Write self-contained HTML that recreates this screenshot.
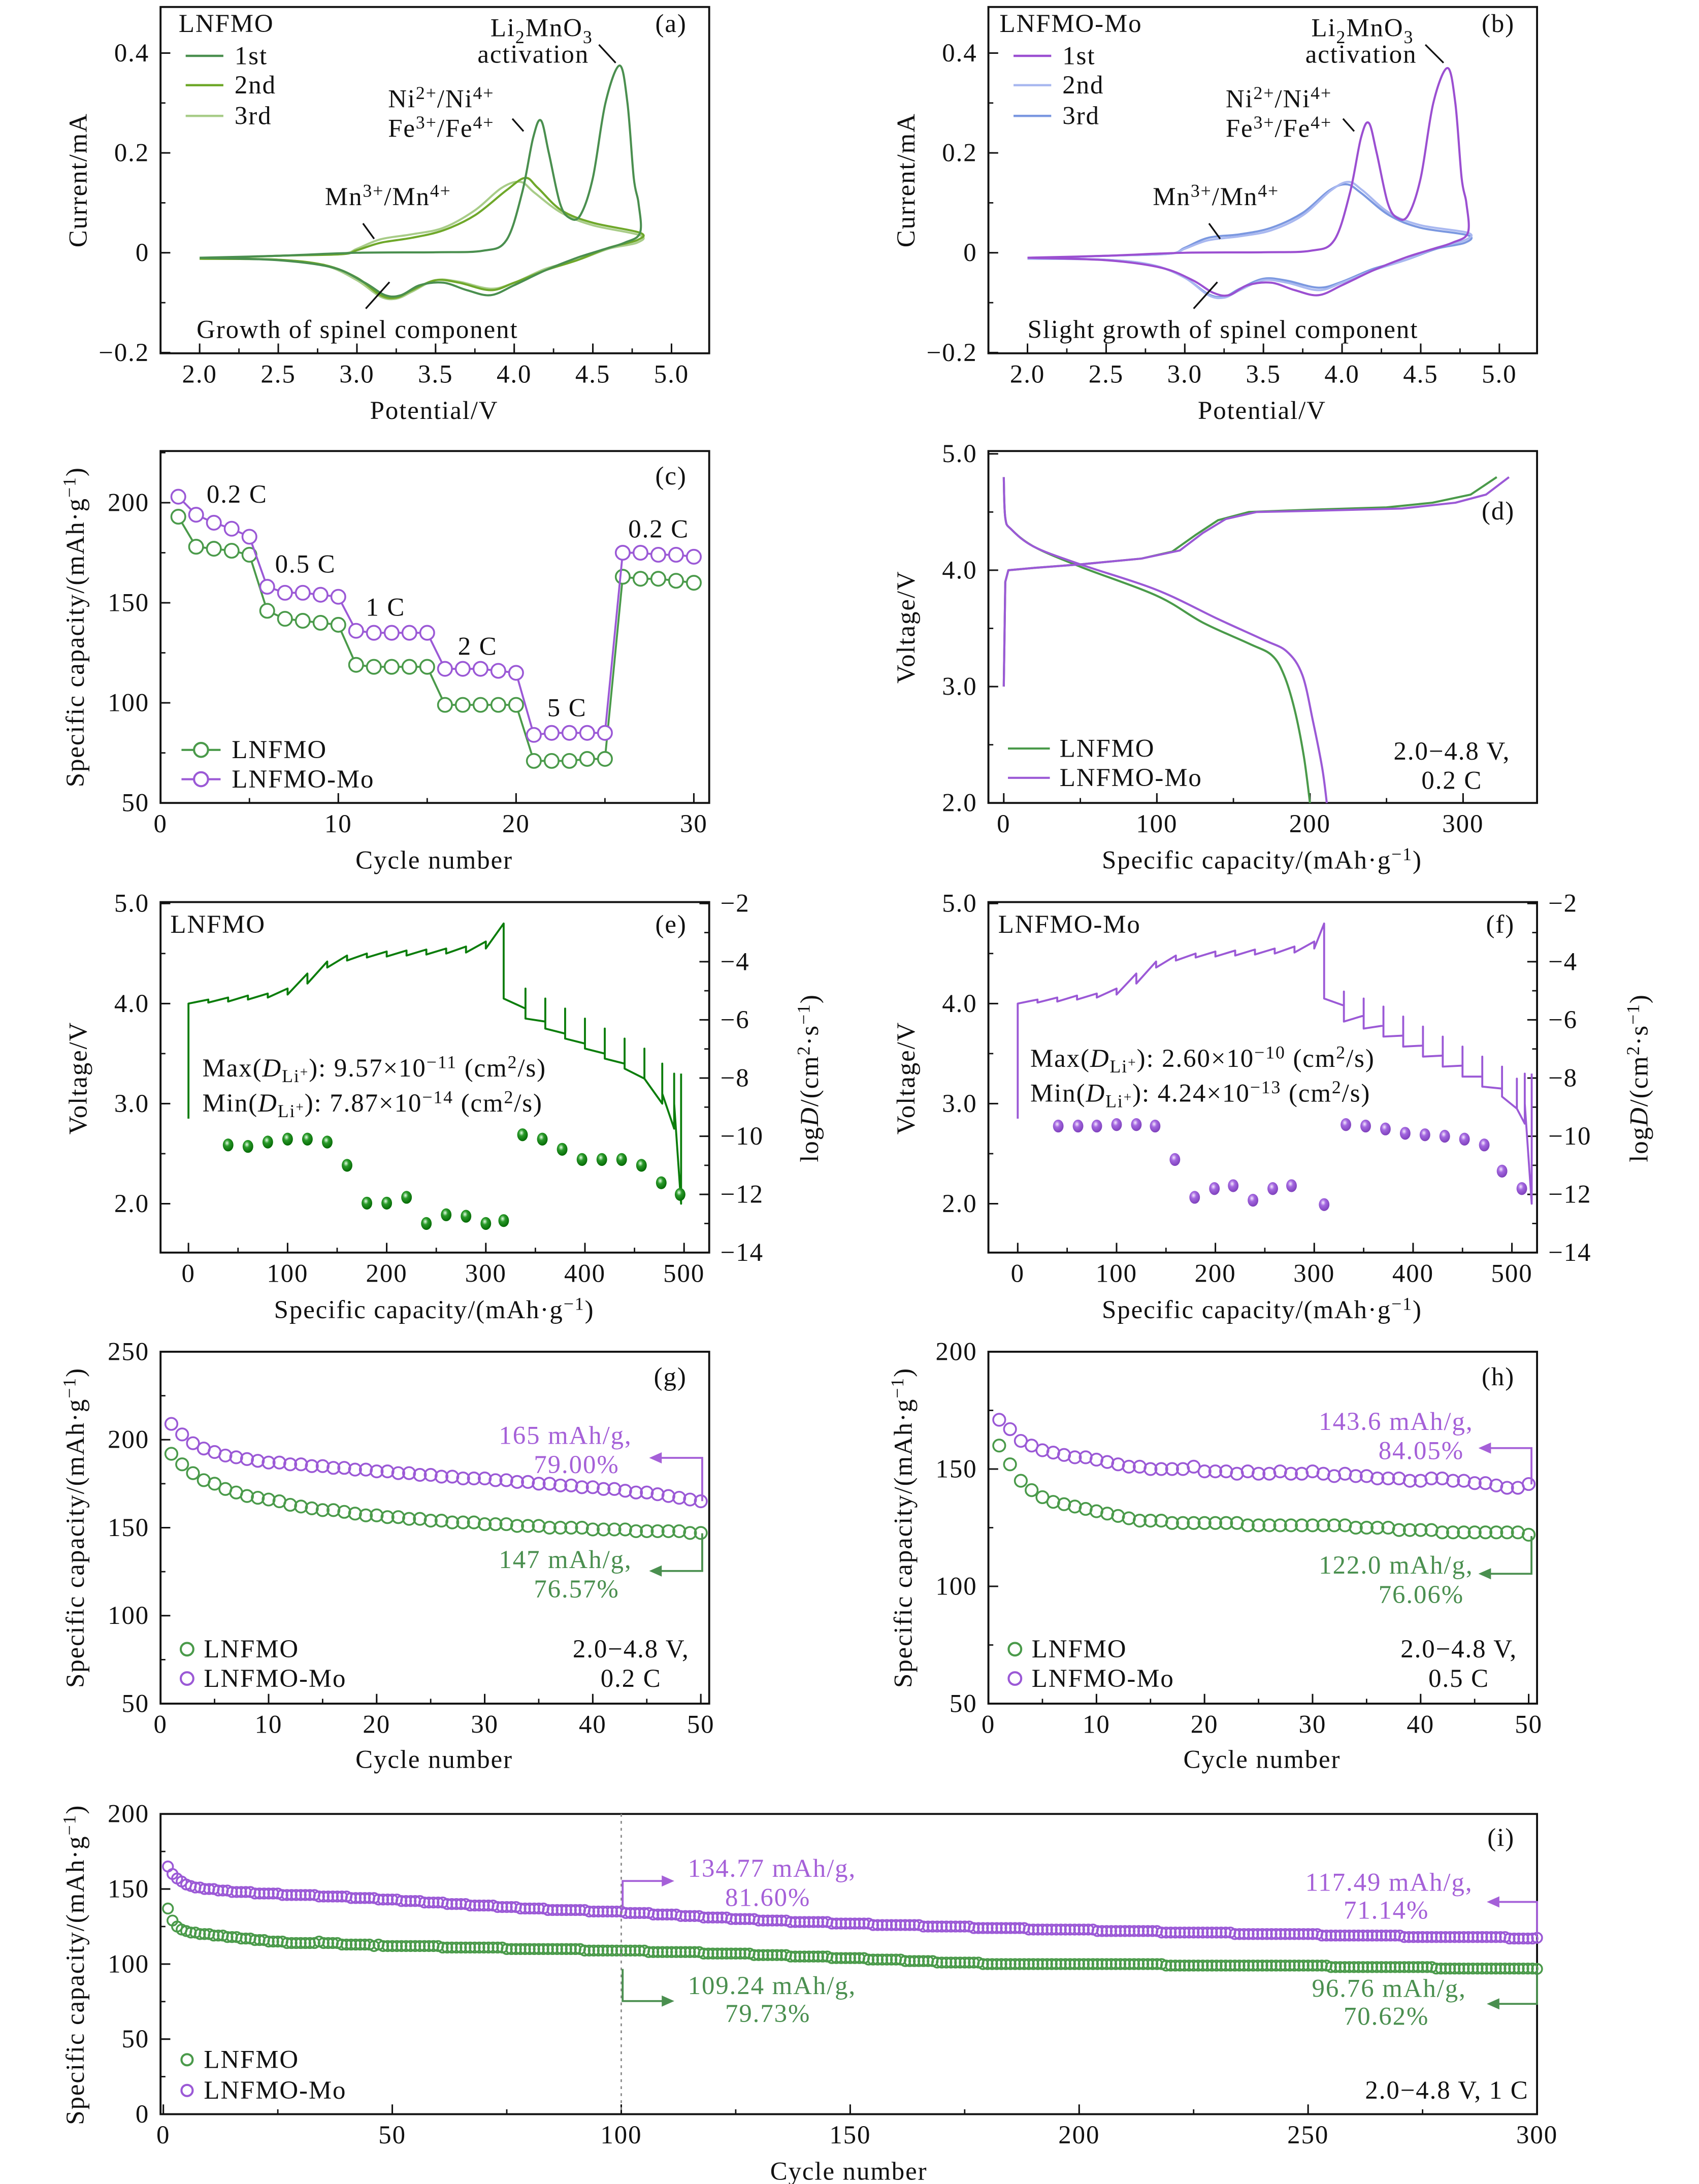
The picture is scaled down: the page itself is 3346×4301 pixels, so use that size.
<!DOCTYPE html>
<html><head><meta charset="utf-8"><title>LNFMO figure</title>
<style>
html,body{margin:0;padding:0;background:#fff;}
svg{display:block;}
text{font-family:"Liberation Serif",serif;fill:#111;font-size:18.5px;letter-spacing:0.7px;}
tspan[font-size="12"]{font-size:13px;}
</style></head>
<body>
<svg id="fig" xmlns="http://www.w3.org/2000/svg" width="3346" height="4301" viewBox="0 0 1217 1564" preserveAspectRatio="none">
<defs>
<radialGradient id="gball" cx="0.4" cy="0.35" r="0.7"><stop offset="0" stop-color="#e8ffe8"/><stop offset="0.35" stop-color="#2a9a2a"/><stop offset="1" stop-color="#006400"/></radialGradient>
<radialGradient id="pball" cx="0.4" cy="0.35" r="0.7"><stop offset="0" stop-color="#f6eaff"/><stop offset="0.35" stop-color="#a468e0"/><stop offset="1" stop-color="#7a3cb8"/></radialGradient>
</defs>
<rect x="0" y="0" width="1217" height="1564" fill="#fff"/>
<g id="static" font-size="17">
<!-- panel a -->
<text x="128" y="23">LNFMO</text>
<text x="492" y="23" text-anchor="end">(a)</text>
<line x1="133" y1="40" x2="160" y2="40" stroke="#4a8f4f" stroke-width="1.6"/>
<line x1="133" y1="61" x2="160" y2="61" stroke="#6fa82a" stroke-width="1.6"/>
<line x1="133" y1="83" x2="160" y2="83" stroke="#a8cc88" stroke-width="1.6"/>
<text x="168" y="46">1st</text>
<text x="168" y="67">2nd</text>
<text x="168" y="89">3rd</text>
<text x="388" y="26" text-anchor="middle">Li<tspan dy="5" font-size="12">2</tspan><tspan dy="-5">MnO</tspan><tspan dy="5" font-size="12">3</tspan></text>
<text x="382" y="45" text-anchor="middle">activation</text>
<line x1="429" y1="32" x2="441" y2="45" stroke="#111" stroke-width="1.2"/>
<text x="316" y="77" text-anchor="middle">Ni<tspan dy="-6" font-size="12">2+</tspan><tspan dy="6">/Ni</tspan><tspan dy="-6" font-size="12">4+</tspan></text>
<text x="316" y="98" text-anchor="middle">Fe<tspan dy="-6" font-size="12">3+</tspan><tspan dy="6">/Fe</tspan><tspan dy="-6" font-size="12">4+</tspan></text>
<line x1="367" y1="85" x2="375" y2="94" stroke="#111" stroke-width="1.2"/>
<text x="278" y="147" text-anchor="middle">Mn<tspan dy="-6" font-size="12">3+</tspan><tspan dy="6">/Mn</tspan><tspan dy="-6" font-size="12">4+</tspan></text>
<line x1="260" y1="160" x2="268" y2="171" stroke="#111" stroke-width="1.2"/>
<text x="256" y="242" text-anchor="middle">Growth of spinel component</text>
<line x1="262" y1="221" x2="279" y2="202" stroke="#111" stroke-width="1.2"/>
<text x="311" y="300" text-anchor="middle">Potential/V</text>
<text transform="translate(62,129) rotate(-90)" text-anchor="middle">Current/mA</text>
<!-- panel b -->
<text x="716" y="23">LNFMO-Mo</text>
<text x="1085" y="23" text-anchor="end">(b)</text>
<line x1="726" y1="40" x2="753" y2="40" stroke="#9b4fd1" stroke-width="1.6"/>
<line x1="726" y1="61" x2="753" y2="61" stroke="#a9b8f0" stroke-width="1.6"/>
<line x1="726" y1="83" x2="753" y2="83" stroke="#7b98e0" stroke-width="1.6"/>
<text x="761" y="46">1st</text>
<text x="761" y="67">2nd</text>
<text x="761" y="89">3rd</text>
<text x="976" y="26" text-anchor="middle">Li<tspan dy="5" font-size="12">2</tspan><tspan dy="-5">MnO</tspan><tspan dy="5" font-size="12">3</tspan></text>
<text x="975" y="45" text-anchor="middle">activation</text>
<line x1="1021" y1="32" x2="1034" y2="45" stroke="#111" stroke-width="1.2"/>
<text x="916" y="77" text-anchor="middle">Ni<tspan dy="-6" font-size="12">2+</tspan><tspan dy="6">/Ni</tspan><tspan dy="-6" font-size="12">4+</tspan></text>
<text x="916" y="98" text-anchor="middle">Fe<tspan dy="-6" font-size="12">3+</tspan><tspan dy="6">/Fe</tspan><tspan dy="-6" font-size="12">4+</tspan></text>
<line x1="962" y1="85" x2="970" y2="94" stroke="#111" stroke-width="1.2"/>
<text x="871" y="147" text-anchor="middle">Mn<tspan dy="-6" font-size="12">3+</tspan><tspan dy="6">/Mn</tspan><tspan dy="-6" font-size="12">4+</tspan></text>
<line x1="866" y1="160" x2="874" y2="171" stroke="#111" stroke-width="1.2"/>
<text x="876" y="242" text-anchor="middle">Slight growth of spinel component</text>
<line x1="855" y1="221" x2="872" y2="202" stroke="#111" stroke-width="1.2"/>
<text x="904" y="300" text-anchor="middle">Potential/V</text>
<text transform="translate(655,129) rotate(-90)" text-anchor="middle">Current/mA</text>
<!-- panel c -->
<text x="492" y="347" text-anchor="end">(c)</text>
<text x="148" y="360">0.2 C</text>
<text x="197" y="410">0.5 C</text>
<text x="262" y="441">1 C</text>
<text x="328" y="469">2 C</text>
<text x="392" y="513">5 C</text>
<text x="450" y="385">0.2 C</text>
<line x1="130" y1="537" x2="158" y2="537" stroke="#4a9a4a" stroke-width="1.5"/>
<circle cx="144" cy="537" r="5" fill="#fff" stroke="#4a9a4a" stroke-width="1.5"/>
<line x1="130" y1="558" x2="158" y2="558" stroke="#9b59d6" stroke-width="1.5"/>
<circle cx="144" cy="558" r="5" fill="#fff" stroke="#9b59d6" stroke-width="1.5"/>
<text x="166" y="543">LNFMO</text>
<text x="166" y="564">LNFMO-Mo</text>
<text x="311" y="622" text-anchor="middle">Cycle number</text>
<text transform="translate(60,449) rotate(-90)" text-anchor="middle">Specific capacity/(mAh·g<tspan dy="-6" font-size="12">−1</tspan><tspan dy="6">)</tspan></text>
<!-- panel d -->
<text x="1085" y="372" text-anchor="end">(d)</text>
<line x1="722" y1="536" x2="752" y2="536" stroke="#4a9a4a" stroke-width="1.5"/>
<line x1="722" y1="557" x2="752" y2="557" stroke="#9b59d6" stroke-width="1.5"/>
<text x="759" y="542">LNFMO</text>
<text x="759" y="563">LNFMO-Mo</text>
<text x="1040" y="544" text-anchor="middle">2.0−4.8 V,</text>
<text x="1040" y="565" text-anchor="middle">0.2 C</text>
<text x="904" y="622" text-anchor="middle">Specific capacity/(mAh·g<tspan dy="-6" font-size="12">−1</tspan><tspan dy="6">)</tspan></text>
<text transform="translate(655,449) rotate(-90)" text-anchor="middle">Voltage/V</text>
<!-- panel e -->
<text x="122" y="668">LNFMO</text>
<text x="492" y="668" text-anchor="end">(e)</text>
<text x="145" y="771">Max(<tspan font-style="italic">D</tspan><tspan dy="4" font-size="12">Li</tspan><tspan dy="-4" font-size="10">+</tspan>): 9.57×10<tspan dy="-6" font-size="12">−11</tspan><tspan dy="6"> (cm</tspan><tspan dy="-6" font-size="12">2</tspan><tspan dy="6">/s)</tspan></text>
<text x="145" y="796">Min(<tspan font-style="italic">D</tspan><tspan dy="4" font-size="12">Li</tspan><tspan dy="-4" font-size="10">+</tspan>): 7.87×10<tspan dy="-6" font-size="12">−14</tspan><tspan dy="6"> (cm</tspan><tspan dy="-6" font-size="12">2</tspan><tspan dy="6">/s)</tspan></text>
<text x="311" y="944" text-anchor="middle">Specific capacity/(mAh·g<tspan dy="-6" font-size="12">−1</tspan><tspan dy="6">)</tspan></text>
<text transform="translate(62,772) rotate(-90)" text-anchor="middle">Voltage/V</text>
<text transform="translate(586,772) rotate(-90)" text-anchor="middle">log<tspan font-style="italic">D</tspan>/(cm<tspan dy="-6" font-size="12">2</tspan><tspan dy="6">·s</tspan><tspan dy="-6" font-size="12">−1</tspan><tspan dy="6">)</tspan></text>
<!-- panel f -->
<text x="715" y="668">LNFMO-Mo</text>
<text x="1085" y="668" text-anchor="end">(f)</text>
<text x="738" y="764">Max(<tspan font-style="italic">D</tspan><tspan dy="4" font-size="12">Li</tspan><tspan dy="-4" font-size="10">+</tspan>): 2.60×10<tspan dy="-6" font-size="12">−10</tspan><tspan dy="6"> (cm</tspan><tspan dy="-6" font-size="12">2</tspan><tspan dy="6">/s)</tspan></text>
<text x="738" y="789">Min(<tspan font-style="italic">D</tspan><tspan dy="4" font-size="12">Li</tspan><tspan dy="-4" font-size="10">+</tspan>): 4.24×10<tspan dy="-6" font-size="12">−13</tspan><tspan dy="6"> (cm</tspan><tspan dy="-6" font-size="12">2</tspan><tspan dy="6">/s)</tspan></text>
<text x="904" y="944" text-anchor="middle">Specific capacity/(mAh·g<tspan dy="-6" font-size="12">−1</tspan><tspan dy="6">)</tspan></text>
<text transform="translate(655,772) rotate(-90)" text-anchor="middle">Voltage/V</text>
<text transform="translate(1180,772) rotate(-90)" text-anchor="middle">log<tspan font-style="italic">D</tspan>/(cm<tspan dy="-6" font-size="12">2</tspan><tspan dy="6">·s</tspan><tspan dy="-6" font-size="12">−1</tspan><tspan dy="6">)</tspan></text>
<!-- panel g -->
<text x="492" y="992" text-anchor="end">(g)</text>
<text x="405" y="1034" text-anchor="middle" style="fill:#a560d8">165 mAh/g,</text>
<text x="413" y="1055" text-anchor="middle" style="fill:#a560d8">79.00%</text>
<path d="M503,1075 V1044 H470" fill="none" stroke="#a560d8" stroke-width="1.4"/>
<path d="M465,1044 l9,-4 v8 z" fill="#a560d8"/>
<text x="405" y="1123" text-anchor="middle" style="fill:#4a8f4f">147 mAh/g,</text>
<text x="413" y="1144" text-anchor="middle" style="fill:#4a8f4f">76.57%</text>
<path d="M503,1098 V1125 H470" fill="none" stroke="#4a8f4f" stroke-width="1.4"/>
<path d="M465,1125 l9,-4 v8 z" fill="#4a8f4f"/>
<circle cx="134" cy="1181" r="4.5" fill="#fff" stroke="#4a9a4a" stroke-width="1.5"/>
<circle cx="134" cy="1202" r="4.5" fill="#fff" stroke="#9b59d6" stroke-width="1.5"/>
<text x="146" y="1187">LNFMO</text>
<text x="146" y="1208">LNFMO-Mo</text>
<text x="452" y="1187" text-anchor="middle">2.0−4.8 V,</text>
<text x="452" y="1208" text-anchor="middle">0.2 C</text>
<text x="311" y="1266" text-anchor="middle">Cycle number</text>
<text transform="translate(60,1094) rotate(-90)" text-anchor="middle">Specific capacity/(mAh·g<tspan dy="-6" font-size="12">−1</tspan><tspan dy="6">)</tspan></text>
<!-- panel h -->
<text x="1085" y="992" text-anchor="end">(h)</text>
<text x="1000" y="1024" text-anchor="middle" style="fill:#a560d8">143.6 mAh/g,</text>
<text x="1018" y="1045" text-anchor="middle" style="fill:#a560d8">84.05%</text>
<path d="M1097,1063 V1037 H1064" fill="none" stroke="#a560d8" stroke-width="1.4"/>
<path d="M1059,1037 l9,-4 v8 z" fill="#a560d8"/>
<text x="1000" y="1127" text-anchor="middle" style="fill:#4a8f4f">122.0 mAh/g,</text>
<text x="1018" y="1148" text-anchor="middle" style="fill:#4a8f4f">76.06%</text>
<path d="M1097,1100 V1127 H1064" fill="none" stroke="#4a8f4f" stroke-width="1.4"/>
<path d="M1059,1127 l9,-4 v8 z" fill="#4a8f4f"/>
<circle cx="727" cy="1181" r="4.5" fill="#fff" stroke="#4a9a4a" stroke-width="1.5"/>
<circle cx="727" cy="1202" r="4.5" fill="#fff" stroke="#9b59d6" stroke-width="1.5"/>
<text x="739" y="1187">LNFMO</text>
<text x="739" y="1208">LNFMO-Mo</text>
<text x="1045" y="1187" text-anchor="middle">2.0−4.8 V,</text>
<text x="1045" y="1208" text-anchor="middle">0.5 C</text>
<text x="904" y="1266" text-anchor="middle">Cycle number</text>
<text transform="translate(653,1094) rotate(-90)" text-anchor="middle">Specific capacity/(mAh·g<tspan dy="-6" font-size="12">−1</tspan><tspan dy="6">)</tspan></text>
<!-- panel i -->
<text x="1085" y="1322" text-anchor="end">(i)</text>
<line x1="445" y1="1299" x2="445" y2="1514" stroke="#888" stroke-width="1" stroke-dasharray="2,3"/>
<text x="553" y="1344" text-anchor="middle" style="fill:#a560d8">134.77 mAh/g,</text>
<text x="550" y="1365" text-anchor="middle" style="fill:#a560d8">81.60%</text>
<path d="M446,1367 V1347 H478" fill="none" stroke="#a560d8" stroke-width="1.4"/>
<path d="M483,1347 l-9,-4 v8 z" fill="#a560d8"/>
<text x="553" y="1428" text-anchor="middle" style="fill:#4a8f4f">109.24 mAh/g,</text>
<text x="550" y="1448" text-anchor="middle" style="fill:#4a8f4f">79.73%</text>
<path d="M446,1410 V1433 H478" fill="none" stroke="#4a8f4f" stroke-width="1.4"/>
<path d="M483,1433 l-9,-4 v8 z" fill="#4a8f4f"/>
<text x="995" y="1354" text-anchor="middle" style="fill:#a560d8">117.49 mAh/g,</text>
<text x="993" y="1374" text-anchor="middle" style="fill:#a560d8">71.14%</text>
<path d="M1101,1386 V1362 H1070" fill="none" stroke="#a560d8" stroke-width="1.4"/>
<path d="M1065,1362 l9,-4 v8 z" fill="#a560d8"/>
<text x="995" y="1430" text-anchor="middle" style="fill:#4a8f4f">96.76 mAh/g,</text>
<text x="993" y="1450" text-anchor="middle" style="fill:#4a8f4f">70.62%</text>
<path d="M1101,1411 V1435 H1070" fill="none" stroke="#4a8f4f" stroke-width="1.4"/>
<path d="M1065,1435 l9,-4 v8 z" fill="#4a8f4f"/>
<circle cx="134" cy="1475" r="4" fill="#fff" stroke="#4a9a4a" stroke-width="1.5"/>
<circle cx="134" cy="1497" r="4" fill="#fff" stroke="#9b59d6" stroke-width="1.5"/>
<text x="146" y="1481">LNFMO</text>
<text x="146" y="1503">LNFMO-Mo</text>
<text x="1095" y="1503" text-anchor="end">2.0−4.8 V, 1 C</text>
<text x="608" y="1561" text-anchor="middle">Cycle number</text>
<text transform="translate(60,1407) rotate(-90)" text-anchor="middle">Specific capacity/(mAh·g<tspan dy="-6" font-size="12">−1</tspan><tspan dy="6">)</tspan></text>
</g>
</svg>
<script>
// ---------- DATA ----------
const cvA1 = [[2.0,-0.01],[2.5,-0.006],[3.0,0.0],[3.5,0.001],[3.8,0.004],[3.95,0.025],[4.05,0.12],[4.12,0.23],[4.17,0.265],[4.22,0.2],[4.29,0.1],[4.35,0.07],[4.42,0.075],[4.5,0.15],[4.58,0.3],[4.67,0.375],[4.72,0.3],[4.76,0.15],[4.79,0.1],[4.8,0.04],[4.7,0.02],[4.55,0.005],[4.4,-0.01],[4.2,-0.035],[4.0,-0.065],[3.85,-0.085],[3.7,-0.075],[3.55,-0.06],[3.4,-0.065],[3.28,-0.085],[3.18,-0.085],[3.05,-0.06],[2.85,-0.03],[2.5,-0.015],[2.0,-0.01]];
const cvA2 = [[2.0,-0.012],[2.5,-0.006],[2.9,-0.003],[3.0,0.005],[3.15,0.02],[3.35,0.03],[3.55,0.045],[3.75,0.075],[3.95,0.125],[4.07,0.15],[4.15,0.13],[4.3,0.085],[4.5,0.06],[4.8,0.04],[4.78,0.025],[4.6,0.01],[4.4,-0.015],[4.2,-0.035],[4.0,-0.06],[3.85,-0.075],[3.65,-0.06],[3.5,-0.055],[3.35,-0.075],[3.25,-0.09],[3.15,-0.085],[3.0,-0.05],[2.8,-0.025],[2.5,-0.014],[2.0,-0.012]];
const cvA3 = [[2.0,-0.012],[2.5,-0.006],[2.9,-0.002],[3.0,0.008],[3.15,0.027],[3.35,0.037],[3.55,0.05],[3.75,0.085],[3.92,0.13],[4.04,0.142],[4.13,0.12],[4.3,0.08],[4.5,0.055],[4.8,0.035],[4.78,0.02],[4.6,0.008],[4.4,-0.015],[4.2,-0.032],[4.0,-0.06],[3.85,-0.072],[3.65,-0.058],[3.5,-0.055],[3.35,-0.078],[3.25,-0.092],[3.15,-0.088],[3.0,-0.055],[2.8,-0.026],[2.5,-0.014],[2.0,-0.012]];
const cvB1 = [[2.0,-0.01],[2.5,-0.006],[3.0,0.0],[3.5,0.001],[3.8,0.004],[3.95,0.025],[4.05,0.12],[4.12,0.23],[4.17,0.26],[4.22,0.2],[4.29,0.1],[4.35,0.07],[4.42,0.075],[4.5,0.15],[4.58,0.3],[4.67,0.37],[4.72,0.3],[4.76,0.15],[4.79,0.1],[4.8,0.04],[4.7,0.02],[4.55,0.005],[4.4,-0.01],[4.2,-0.035],[4.0,-0.065],[3.85,-0.085],[3.7,-0.075],[3.55,-0.06],[3.4,-0.065],[3.28,-0.085],[3.18,-0.08],[3.05,-0.055],[2.85,-0.03],[2.5,-0.015],[2.0,-0.01]];
const cvB2 = [[2.0,-0.012],[2.5,-0.006],[2.9,-0.002],[3.0,0.008],[3.15,0.025],[3.35,0.033],[3.55,0.045],[3.75,0.075],[3.93,0.125],[4.04,0.142],[4.13,0.125],[4.3,0.08],[4.5,0.055],[4.8,0.04],[4.78,0.025],[4.6,0.01],[4.4,-0.015],[4.2,-0.035],[4.0,-0.06],[3.85,-0.075],[3.65,-0.06],[3.5,-0.055],[3.35,-0.075],[3.25,-0.09],[3.15,-0.085],[3.0,-0.05],[2.8,-0.025],[2.5,-0.014],[2.0,-0.012]];
const cvB3 = [[2.0,-0.012],[2.5,-0.006],[2.9,-0.002],[3.0,0.01],[3.15,0.03],[3.35,0.037],[3.55,0.05],[3.75,0.08],[3.92,0.125],[4.03,0.137],[4.12,0.12],[4.3,0.075],[4.5,0.05],[4.8,0.035],[4.78,0.02],[4.6,0.008],[4.4,-0.015],[4.2,-0.032],[4.0,-0.058],[3.85,-0.07],[3.65,-0.056],[3.5,-0.052],[3.35,-0.072],[3.25,-0.088],[3.15,-0.083],[3.0,-0.05],[2.8,-0.025],[2.5,-0.014],[2.0,-0.012]];

const rateCycles = [1,2,3,4,5,6,7,8,9,10,11,12,13,14,15,16,17,18,19,20,21,22,23,24,25,26,27,28,29,30];
const rateLNFMO = [193,178,177,176,174,146,142,141,140,139,119,118,118,118,118,99,99,99,99,99,71,71,71,72,72,163,162,162,161,160];
const rateMo = [203,194,190,187,183,158,155,155,154,153,136,135,135,135,135,117,117,117,116,115,84,85,85,85,85,175,175,174,174,173];

const dChgL = [[0,3.0],[1,3.9],[3,4.0],[20,4.02],[50,4.05],[90,4.1],[110,4.16],[125,4.3],[140,4.43],[160,4.5],[200,4.52],[250,4.54],[280,4.58],[305,4.65],[322,4.8]];
const dChgM = [[0,3.0],[1,3.9],[3,4.0],[20,4.02],[50,4.05],[90,4.1],[115,4.17],[130,4.32],[145,4.44],[165,4.5],[200,4.51],[260,4.53],[295,4.58],[315,4.65],[330,4.8]];
const dDisL = [[0,4.8],[1,4.45],[5,4.35],[20,4.2],[50,4.03],[100,3.78],[130,3.55],[160,3.37],[175,3.27],[183,3.1],[190,2.8],[196,2.4],[200,2.0]];
const dDisM = [[0,4.8],[1,4.45],[5,4.35],[20,4.2],[50,4.05],[100,3.83],[140,3.58],[170,3.4],[185,3.3],[195,3.1],[202,2.7],[208,2.3],[211,2.0]];

const eChgCap = [0,20,40,60,80,100,120,140,160,180,200,220,240,260,280,300,318];
const eChgTop = [4.02,4.04,4.06,4.08,4.10,4.15,4.30,4.42,4.48,4.50,4.52,4.53,4.54,4.55,4.57,4.62,4.80];
const eChgRel = [4.00,4.01,4.02,4.04,4.06,4.09,4.20,4.36,4.43,4.46,4.47,4.48,4.49,4.50,4.51,4.55,4.8];
const eDisCap = [318,340,360,380,400,420,440,460,478,490,497];
const eDisBot = [4.8,3.95,3.82,3.7,3.6,3.5,3.4,3.25,3.0,2.75,2.0];
const eDisRel = [4.8,4.15,4.05,3.95,3.85,3.75,3.65,3.55,3.4,3.3,3.3];
const eLogCap = [40,60,80,100,120,140,160,180,200,220,240,260,280,300,318,337,357,377,397,417,437,457,477,496];
const eLogD = [-10.3,-10.35,-10.2,-10.1,-10.1,-10.2,-11.0,-12.3,-12.3,-12.1,-13.0,-12.7,-12.75,-13.0,-12.9,-9.95,-10.1,-10.45,-10.8,-10.8,-10.8,-11.0,-11.6,-12.0];

const fChgCap = [0,20,40,60,80,100,120,140,160,180,200,220,240,260,280,300,310];
const fChgTop = [4.02,4.04,4.06,4.08,4.10,4.15,4.30,4.42,4.48,4.50,4.52,4.53,4.54,4.55,4.57,4.62,4.80];
const fChgRel = [4.00,4.01,4.02,4.04,4.06,4.09,4.20,4.36,4.43,4.46,4.47,4.48,4.49,4.50,4.51,4.55,4.8];
const fDisCap = [310,330,350,370,390,410,430,450,470,490,505,513,520];
const fDisBot = [4.8,3.98,3.88,3.78,3.68,3.58,3.48,3.38,3.27,3.15,2.95,2.8,2.0];
const fDisRel = [4.8,4.12,4.05,3.97,3.87,3.77,3.67,3.57,3.47,3.37,3.25,3.3,3.3];
const fLogCap = [41,61,80,100,120,139,159,179,199,218,238,258,277,310,332,352,372,392,412,432,452,472,490,510];
const fLogD = [-9.65,-9.65,-9.65,-9.6,-9.6,-9.65,-10.8,-12.1,-11.8,-11.7,-12.2,-11.8,-11.7,-12.35,-9.6,-9.65,-9.75,-9.9,-9.95,-10.0,-10.1,-10.3,-11.2,-11.8];

const cyc50 = Array.from({length:50},(_,i)=>i+1);
const gLNFMO = [192,186,181,177,175,172,170,168,167,166,165,163,162,161,160,160,159,158,157,157,156,156,155,155,154,154,153,153,153,152,152,152,151,151,151,150,150,150,150,149,149,149,149,148,148,148,148,148,147,147];
const gMo = [209,203,198,195,193,191,190,189,188,187,187,186,186,185,185,184,184,183,183,182,182,181,181,180,180,179,179,178,178,178,177,177,176,176,175,175,174,174,173,173,172,172,171,170,170,169,168,167,166,165];
const hLNFMO = [160,152,145,141,138,136,135,134,133,132,131,130,129,128,128,128,127,127,127,127,127,127,127,126,126,126,126,126,126,126,126,126,126,125,125,125,125,124,124,124,124,123,123,123,123,123,123,123,123,122];
const hMo = [171,167,162,160,158,157,156,155,155,154,153,152,151,151,150,150,150,150,151,149,149,149,148,149,148,148,149,148,148,149,148,147,148,147,147,146,146,146,145,145,146,146,145,145,144,144,143,142,142,143.6];

const cyc300 = Array.from({length:300},(_,i)=>i+1);
const iLNFMO = [137,129,125,123,122,121,121,120,120,120, 119,119,119,118,118,118,117,117,117,116, 116,116,115,115,115,115,114,114,114,114, 114,114,114,115,114,114,114,114,113,113, 113,113,113,113,113,112,113,112,112,112, 112,112,112,112,112,112,112,112,112,112, 111,111,111,111,111,111,111,111,111,111, 111,111,111,111,110,110,110,110,110,110, 110,110,110,110,110,110,110,110,110,110, 110,109,109,109,109,109,109,109,109,109, 109,109,109,109,109,108,108,108,108,108, 108,108,108,108,108,108,108,107,107,107, 107,107,107,107,107,107,107,107,106,106, 106,106,106,106,106,106,105,105,105,105, 105,105,105,105,105,104,104,104,104,104, 104,104,104,103,103,103,103,103,103,103, 103,102,102,102,102,102,102,102,101,101, 101,101,101,101,101,101,101,101,100,100, 100,100,100,100,100,100,100,100,100,100, 100,100,100,100,100,100,100,100,100,100, 100,100,100,100,100,100,100,100,100,100, 100,100,100,100,100,100,100,100,99,99, 99,99,99,99,99,99,99,99,99,99, 99,99,99,99,99,99,99,99,99,99, 99,99,99,99,99,99,99,99,99,99, 99,99,99,99,98,98,98,98,98,98, 98,98,98,98,98,98,98,98,98,98, 98,98,98,98,98,98,98,97,97,97, 97,97,97,97,97,97,97,97,97,97, 97,97,97,97,97,97,97,97,97,96.8];
const iMo = [165,160,157,155,153,152,151,151,150,150, 150,149,149,149,148,148,148,148,148,147, 147,147,147,147,147,146,146,146,146,146, 146,146,146,145,145,145,145,145,145,145, 144,144,144,144,144,144,143,143,143,143, 143,142,142,142,142,142,141,141,141,141, 141,140,140,140,140,140,139,139,139,139, 139,139,138,138,138,138,138,137,137,137, 137,137,137,136,136,136,136,136,136,136, 136,136,135,135,135,135,135,135,135,135, 134,134,134,134,134,134,133,133,133,133, 133,133,132,132,132,132,132,131,131,131, 131,131,131,130,130,130,130,130,130,129, 129,129,129,129,129,129,128,128,128,128, 128,128,128,128,128,127,127,127,127,127, 127,127,127,127,126,126,126,126,126,126, 126,126,126,126,126,125,125,125,125,125, 125,125,125,125,125,125,124,124,124,124, 124,124,124,124,124,124,124,124,123,123, 123,123,123,123,123,123,123,123,123,123, 123,123,123,122,122,122,122,122,122,122, 122,122,122,122,122,122,122,121,121,121, 121,121,121,121,121,121,121,121,121,121, 121,121,121,120,120,120,120,120,120,120, 120,120,120,120,120,120,120,120,120,120, 120,120,119,119,119,119,119,119,119,119, 119,119,119,119,119,119,119,119,119,119, 118,118,118,118,118,118,118,118,118,118, 118,118,118,118,118,118,118,118,118,118, 118,118,118,117,117,117,117,117,117,117.5];

// ---------- HELPERS ----------
const NS = 'http://www.w3.org/2000/svg';
const svg = document.getElementById('fig');
const layer = document.createElementNS(NS,'g');


svg.insertBefore(layer, document.getElementById('static'));
function mk(tag, attrs, parent){ const e=document.createElementNS(NS,tag); for(const k in attrs) e.setAttribute(k,attrs[k]); (parent||layer).appendChild(e); return e; }
function lin(v0,p0,v1,p1){ const k=(p1-p0)/(v1-v0); return v=>p0+(v-v0)*k; }
function range(a,b,s){ const r=[]; for(let v=a; v<=b+1e-9; v+=s) r.push(Math.round(v*1000)/1000); return r; }
function smooth(pts){
  let d='M'+pts[0][0].toFixed(2)+','+pts[0][1].toFixed(2);
  for(let i=0;i<pts.length-1;i++){
    const p0=pts[i-1]||pts[i], p1=pts[i], p2=pts[i+1], p3=pts[i+2]||p2;
    const c1=[p1[0]+(p2[0]-p0[0])/6, p1[1]+(p2[1]-p0[1])/6];
    const c2=[p2[0]-(p3[0]-p1[0])/6, p2[1]-(p3[1]-p1[1])/6];
    d+=' C'+c1[0].toFixed(2)+','+c1[1].toFixed(2)+' '+c2[0].toFixed(2)+','+c2[1].toFixed(2)+' '+p2[0].toFixed(2)+','+p2[1].toFixed(2);
  }
  return d;
}
function poly(pts){ return 'M'+pts.map(p=>p[0].toFixed(2)+','+p[1].toFixed(2)).join(' L'); }

function axes(name, box, xs, ys, xMaj, xMin, xFmt, yMaj, yMin, yFmt, right){
  const g = mk('g',{});
  
  
  const fr = mk('rect',{x:box[0],y:box[2],width:box[1]-box[0],height:box[3]-box[2],fill:'none',stroke:'#111','stroke-width':1.4},g);
  
  
  xMin.forEach(v=>{ const x=xs(v); if(x<box[0]||x>box[1]) return; mk('line',{x1:x,x2:x,y1:box[3],y2:box[3]-3.5,stroke:'#111','stroke-width':1},g); });
  xMaj.forEach(v=>{ const x=xs(v);
    mk('line',{x1:x,x2:x,y1:box[3],y2:box[3]-7,stroke:'#111','stroke-width':1.1},g);
    const t=mk('text',{x:x,y:box[3]+21,'text-anchor':'middle','font-size':17},g);
    
    
    t.textContent=xFmt(v); });
  yMin.forEach(v=>{ const y=ys(v); if(y<box[2]-0.5||y>box[3]+0.5) return; mk('line',{x1:box[0],x2:box[0]+3.5,y1:y,y2:y,stroke:'#111','stroke-width':1},g); });
  yMaj.forEach(v=>{ const y=ys(v);
    mk('line',{x1:box[0],x2:box[0]+7,y1:y,y2:y,stroke:'#111','stroke-width':1.1},g);
    const t=mk('text',{x:box[0]-8,y:y+6,'text-anchor':'end','font-size':17},g);
    
    
    t.textContent=yFmt(v); });
  if(right){
    const [rs,rMaj,rMin,rFmt]=right;
    rMin.forEach(v=>{ const y=rs(v); mk('line',{x1:box[1],x2:box[1]-3.5,y1:y,y2:y,stroke:'#111','stroke-width':1},g); });
    rMaj.forEach(v=>{ const y=rs(v);
      mk('line',{x1:box[1],x2:box[1]-7,y1:y,y2:y,stroke:'#111','stroke-width':1.1},g);
      const t=mk('text',{x:box[1]+8,y:y+6,'text-anchor':'start','font-size':17},g);
      
      
      t.textContent=rFmt(v); });
  }
}
const f1 = v=>v.toFixed(1);
const f0 = v=>String(Math.round(v));
const fm = v=>v<0?'−'+Math.abs(v).toFixed(1):(v===0?'0':v.toFixed(1));
const fneg = v=>v<0?'−'+Math.abs(v):String(v);

function curve(pts, xs, ys, color, w, name, sm){
  const p = pts.map(q=>[xs(q[0]), ys(q[1])]);
  const e = mk('path',{d: sm?smooth(p):poly(p), fill:'none', stroke:color,'stroke-width':w,'stroke-linejoin':'round'});
  
  
}
function markers(xv, yv, xs, ys, color, r, name, line){
  if(line){
    const e = mk('path',{d: poly(xv.map((x,i)=>[xs(x),ys(yv[i])])), fill:'none', stroke:color,'stroke-width':1.4});
    
    
  }
  xv.forEach((x,i)=>{
    const c = mk('circle',{cx:xs(x), cy:ys(yv[i]), r:r, fill:'#fff','fill-opacity':line?1:0, stroke:color,'stroke-width':1.3});
    
    
  });
}
function balls(xv, yv, xs, ys, grad, name){
  xv.forEach((x,i)=>{
    const c = mk('ellipse',{cx:xs(x), cy:ys(yv[i]), rx:3.8, ry:4.6, fill:'url(#'+grad+')'});
    
    
  });
}
function gitt(chgCap, chgTop, chgRel, disCap, disBot, disRel, xs, ys, color, name){
  const pts=[[0,2.85],[0,chgRel[0]]];
  for(let i=0;i<chgCap.length-1;i++){ pts.push([chgCap[i+1],chgTop[i+1]]); pts.push([chgCap[i+1],chgRel[i+1]]); }
  pts.push([disCap[0],disRel[0]]);
  for(let i=0;i<disCap.length-1;i++){
    pts.push([disCap[i], i===0?disRel[0]-0.75:disRel[i]-0.3]);
    pts.push([disCap[i+1],disBot[i+1]]);
    pts.push([disCap[i+1],disRel[i+1]]);
  }
  curve(pts, xs, ys, color, 1.4, name, false);
}

// ---------- PANEL A ----------
{ const box=[115,508,5,253], xs=lin(2,143,5,481), ys=lin(0,181,0.4,38);
  axes('panel-a',box,xs,ys,range(2,5,0.5),range(1.75,5.25,0.25),f1,[-0.2,0,0.2,0.4],range(-0.2,0.4,0.1),v=>v===0?'0':fm(v));
  curve(cvA3,xs,ys,'#a8cc88',1.5,'cv-a-3rd',true);
  curve(cvA2,xs,ys,'#6fa82a',1.5,'cv-a-2nd',true);
  curve(cvA1,xs,ys,'#4a8f4f',1.5,'cv-a-1st',true); }
// ---------- PANEL B ----------
{ const box=[708,1101,5,253], xs=lin(2,736,5,1074), ys=lin(0,181,0.4,38);
  axes('panel-b',box,xs,ys,range(2,5,0.5),range(1.75,5.25,0.25),f1,[-0.2,0,0.2,0.4],range(-0.2,0.4,0.1),v=>v===0?'0':fm(v));
  curve(cvB3,xs,ys,'#7b98e0',1.5,'cv-b-3rd',true);
  curve(cvB2,xs,ys,'#a9b8f0',1.5,'cv-b-2nd',true);
  curve(cvB1,xs,ys,'#9b4fd1',1.5,'cv-b-1st',true); }
// ---------- PANEL C ----------
{ const box=[115,508,323,575], xs=lin(0,115,30,497), ys=lin(50,575,200,360);
  axes('panel-c',box,xs,ys,[0,10,20,30],range(0,30,5),f0,[50,100,150,200],range(50,225,25),f0);
  markers(rateCycles,rateLNFMO,xs,ys,'#4a9a4a',5,'rate-lnfmo',true);
  markers(rateCycles,rateMo,xs,ys,'#9b59d6',5,'rate-mo',true); }
// ---------- PANEL D ----------
{ const box=[708,1101,323,575], xs=lin(0,719,300,1048), ys=lin(2,575,5,325);
  axes('panel-d',box,xs,ys,[0,100,200,300],range(0,350,50),f0,[2,3,4,5],range(2,5,0.5),f1);
  curve(dChgL,xs,ys,'#4a9a4a',1.5,'d-charge-lnfmo',false);
  curve(dDisL,xs,ys,'#4a9a4a',1.5,'d-discharge-lnfmo',true);
  curve(dChgM,xs,ys,'#9b59d6',1.5,'d-charge-mo',false);
  curve(dDisM,xs,ys,'#9b59d6',1.5,'d-discharge-mo',true); }
// ---------- PANEL E ----------
{ const box=[115,508,646,897], xs=lin(0,135,500,490), ys=lin(2,862,5,647), yr=lin(-14,897,-2,647);
  axes('panel-e',box,xs,ys,[0,100,200,300,400,500],range(0,500,50),f0,[2,3,4,5],range(1.5,5,0.5),f1,[yr,range(-14,-2,2),range(-14,-2,1),fneg]);
  gitt(eChgCap,eChgTop,eChgRel,eDisCap,eDisBot,eDisRel,xs,ys,'#0b7d0b','gitt-lnfmo');
  balls(eLogCap,eLogD,xs,yr,'gball','logd-lnfmo-point'); }
// ---------- PANEL F ----------
{ const box=[708,1101,646,897], xs=lin(0,729,500,1083), ys=lin(2,862,5,647), yr=lin(-14,897,-2,647);
  axes('panel-f',box,xs,ys,[0,100,200,300,400,500],range(0,500,50),f0,[2,3,4,5],range(1.5,5,0.5),f1,[yr,range(-14,-2,2),range(-14,-2,1),fneg]);
  gitt(fChgCap,fChgTop,fChgRel,fDisCap,fDisBot,fDisRel,xs,ys,'#9b59d6','gitt-mo');
  balls(fLogCap,fLogD,xs,yr,'pball','logd-mo-point'); }
// ---------- PANEL G ----------
{ const box=[115,508,968,1220], xs=lin(0,115,50,502), ys=lin(50,1220,250,968);
  axes('panel-g',box,xs,ys,range(0,50,10),range(0,50,5),f0,range(50,250,50),range(50,250,25),f0);
  markers(cyc50,gLNFMO,xs,ys,'#4a9a4a',4.3,'g-lnfmo',false);
  markers(cyc50,gMo,xs,ys,'#9b59d6',4.3,'g-mo',false); }
// ---------- PANEL H ----------
{ const box=[708,1101,968,1220], xs=lin(0,708,50,1095), ys=lin(50,1220,200,968);
  axes('panel-h',box,xs,ys,range(0,50,10),range(0,50,5),f0,range(50,200,50),range(50,200,25),f0);
  markers(cyc50,hLNFMO,xs,ys,'#4a9a4a',4.3,'h-lnfmo',false);
  markers(cyc50,hMo,xs,ys,'#9b59d6',4.3,'h-mo',false); }
// ---------- PANEL I ----------
{ const box=[115,1101,1299,1514], xs=lin(0,117,300,1101), ys=lin(0,1514,200,1299);
  axes('panel-i',box,xs,ys,range(0,300,50),range(0,300,25),f0,range(0,200,50),range(0,200,25),f0);
  markers(cyc300,iLNFMO,xs,ys,'#4a9a4a',3.6,'i-lnfmo',false);
  markers(cyc300,iMo,xs,ys,'#9b59d6',3.6,'i-mo',false); }
</script>
</body></html>
